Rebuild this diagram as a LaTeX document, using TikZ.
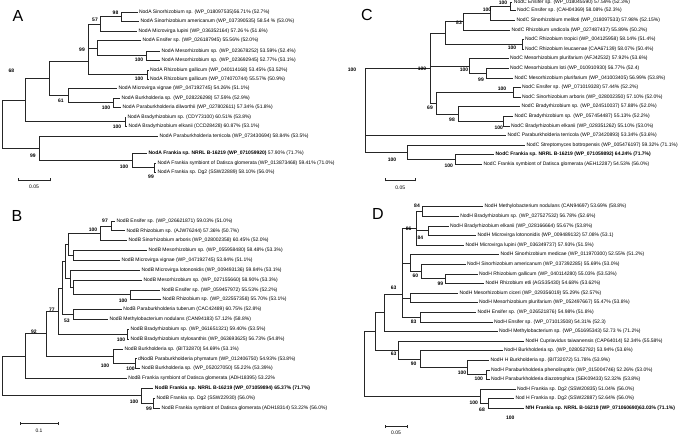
\documentclass[tikz,border=0pt]{standalone}
\usepackage{fontspec}
\setmainfont{Liberation Sans}
\begin{document}
\begin{tikzpicture}[x=1pt,y=-1pt,
 br/.style={draw=black!85, line width=0.7pt},
 lf/.style={anchor=west, inner xsep=1.4pt, inner ysep=0pt, font=\fontsize{5}{5}\selectfont},
 lfb/.style={lf, font=\fontsize{5}{5}\selectfont\bfseries},
 bs/.style={inner sep=0pt, font=\fontsize{5}{5}\selectfont\bfseries},
 pl/.style={inner sep=0pt, font=\fontsize{16}{16}\selectfont},
 sc/.style={inner sep=0pt, font=\fontsize{5}{5}\selectfont}]
\useasboundingbox (0,0) rectangle (685,435);
\fill[white] (0,0) rectangle (685,435);
% ================= PANEL A =================
\node[pl] (pA) at (18,16) {A};
\coordinate (a98) at (121,16.75);
\coordinate (a57) at (100,24);
\coordinate (aMe) at (146,55.75);
\coordinate (a97) at (97,48.1);
\coordinate (aGa) at (147,74.5);
\coordinate (a99) at (88,61.3);
\coordinate (aBu) at (113.3,102.75);
\coordinate (a61) at (68.3,95.6);
\coordinate (a68) at (49.3,78.45);
\coordinate (aBr) at (125,121.75);
\coordinate (aX) at (25,100.1);
\coordinate (aFr2) at (154.3,167.75);
\coordinate (aFr) at (132,160.6);
\coordinate (a99b) at (39.3,148.3);
\coordinate (aR) at (2,124.2);
\node[lf] (aL1) at (137.5,12) {NodA Sinorhizobium sp. (WP\_018097535)56.71\% (52.7\%)};
\node[lf] (aL2) at (139,21.5) {NodA Sinorhizobium americanum (WP\_037390535) 58.54 \% (53.0\%)};
\node[lf] (aL3) at (137,31) {NodA Microvirga lupini (WP\_036352164) 57.26 \% (51.6\%)};
\node[lf] (aL4) at (141,40.5) {NodA Ensifer sp. (WP\_026187945) 55.56\% (52.0\%)};
\node[lf] (aL5) at (160,51) {NodA Mesorhizobium sp. (WP\_023678252) 53.59\% (52.4\%)};
\node[lf] (aL6) at (160,60.5) {NodA Mesorhizobium sp. (WP\_023692945) 52.77\% (53.1\%)};
\node[lf] (aL7) at (148.5,70) {NodA Rhizobium gallicum (WP\_040114168) 53.45\% (53.52\%)};
\node[lf] (aL8) at (148.5,79) {NodA Rhizobium gallicum (WP\_074070744) 55.57\% (50.9\%)};
\node[lf] (aL9) at (117,88.5) {NodA Microvirga vignae (WP\_047192745) 54.26\% (51.1\%)};
\node[lf] (aL10) at (120,98) {NodA Burkholderia sp. (WP\_028226298) 57.59\% (52.9\%)};
\node[lf] (aL11) at (121,107.5) {NodA Paraburkholderia dilworthii (WP\_027802611) 57.34\% (51.8\%)};
\node[lf] (aL12) at (126,117) {NodA Bradyrhizobium sp. (CDY73100) 60.51\% (53.8\%)};
\node[lf] (aL13) at (127,126.5) {NodA Bradyrhizobium elkanii (CCD28428) 60.87\% (53.1\%)};
\node[lf] (aL14) at (158,136) {NodA Paraburkholderia terricola (WP\_073430694) 58.84\% (53.5\%)};
\node[lf] (aL15) at (147,153.5) {\bfseries NodA Frankia sp. NRRL B-16219 (WP\_071059920)\mdseries{} 57.90\% (71.7\%)};
\node[lf] (aL16) at (156,163) {NodA Frankia symbiont of Datisca glomerata (WP\_013873468) 59.41\% (71.0\%)};
\node[lf] (aL17) at (156,172.5) {NodA Frankia sp. Dg2 (SSW22889) 58.10\% (56.0\%)};
\draw[br] (a98) |- (aL1.west); \draw[br] (a98) |- (aL2.west);
\draw[br] (a57) |- (a98); \draw[br] (a57) |- (aL3.west);
\draw[br] (aMe) |- (aL5.west); \draw[br] (aMe) |- (aL6.west);
\draw[br] (a97) |- (aL4.west); \draw[br] (a97) |- (aMe);
\draw[br] (aGa) |- (aL7.west); \draw[br] (aGa) |- (aL8.west);
\draw[br] (a99) |- (a57); \draw[br] (a99) |- (a97); \draw[br] (a99) |- (aGa);
\draw[br] (aBu) |- (aL10.west); \draw[br] (aBu) |- (aL11.west);
\draw[br] (a61) |- (aL9.west); \draw[br] (a61) |- (aBu);
\draw[br] (a68) |- (a99); \draw[br] (a68) |- (a61);
\draw[br] (aBr) |- (aL12.west); \draw[br] (aBr) |- (aL13.west);
\draw[br] (aX) |- (a68); \draw[br] (aX) |- (aBr);
\draw[br] (aFr2) |- (aL16.west); \draw[br] (aFr2) |- (aL17.west);
\draw[br] (aFr) |- (aL15.west); \draw[br] (aFr) |- (aFr2);
\draw[br] (a99b) |- (aL14.west); \draw[br] (a99b) |- (aFr);
\draw[br] (aR) |- (aX); \draw[br] (aR) |- (a99b);
\node[bs] (bA1) at (115.5,12.8) {98};
\node[bs] (bA2) at (95,19.5) {57};
\node[bs] (bA3) at (82,49.5) {99};
\node[bs] (bA4) at (139,60) {100};
\node[bs] (bA5) at (139,79) {100};
\node[bs] (bA6) at (11.5,71) {68};
\node[bs] (bA7) at (61,101) {61};
\node[bs] (bA8) at (106,108) {100};
\node[bs] (bA9) at (117,127) {100};
\node[bs] (bA10) at (33,156) {99};
\node[bs] (bA11) at (124,167) {100};
\node[bs] (bA12) at (151,176.5) {99};
\coordinate (sA1) at (18,180); \coordinate (sA2) at (50,180);
\draw[br] (sA1) -- (sA2); \draw[br] ([yshift=-1.5pt]sA1) -- ([yshift=1.5pt]sA1); \draw[br] ([yshift=-1.5pt]sA2) -- ([yshift=1.5pt]sA2);
\node[sc] (tA) at (34,187) {0.05};
% ================= PANEL B =================
\node[pl] (pB) at (17,216) {B};
\coordinate (b97) at (111,225.9);
\coordinate (b100) at (100,233.3);
\coordinate (bMM) at (73.3,255.5);
\coordinate (b68) at (68.3,244.4);
\coordinate (bER) at (130,294.8);
\coordinate (bY) at (73,287.4);
\coordinate (bX) at (70,278.8);
\coordinate (bZ) at (65,261.6);
\coordinate (bPM) at (73.3,314.5);
\coordinate (bU) at (62,288);
\coordinate (bBr) at (127,334.2);
\coordinate (bN60) at (58,311.1);
\coordinate (bBk2) at (135,363.7);
\coordinate (bBk) at (113.3,356.3);
\coordinate (bN47) at (46.7,333.7);
\coordinate (bN25) at (25,356);
\coordinate (bFr2) at (153.3,403);
\coordinate (bFr) at (141.7,395.7);
\coordinate (bR) at (2,375.8);
\node[lf] (bL1) at (115,221) {NodB Ensifer sp. (WP\_026621871) 59.03\% (51.0\%)};
\node[lf] (bL2) at (125,230.8) {NodB Rhizobium sp. (AJW76244) 57.36\% (50.7\%)};
\node[lf] (bL3) at (127,240.7) {NodB Sinorhizobium arboris (WP\_028002358) 60.45\% (52.0\%)};
\node[lf] (bL4) at (147,250.5) {NodB Mesorhizobium sp. (WP\_055958480) 58.48\% (53.3\%)};
\node[lf] (bL5) at (120,260.4) {NodB Microvirga vignae (WP\_047192745) 53.84\% (51.1\%)};
\node[lf] (bL6) at (140,270.2) {NodB Microvirga lotononidis (WP\_009493136) 59.84\% (53.1\%)};
\node[lf] (bL7) at (142,280) {NodB Mesorhizobium sp. (WP\_027155660) 58.90\% (53.3\%)};
\node[lf] (bL8) at (160,289.9) {NodB Ensifer sp. (WP\_059457972) 55.53\% (52.2\%)};
\node[lf] (bL9) at (161,299.7) {NodB Rhizobium sp. (WP\_022557358) 55.70\% (53.1\%)};
\node[lf] (bL10) at (121.7,309.6) {NodB Paraburkholderia tuberum (CAC42489) 60.75\% (52.8\%)};
\node[lf] (bL11) at (108,319.4) {NodB Methylobacterium nodulans (CAN94183) 57.12\% (58.8\%)};
\node[lf] (bL12) at (129,329.2) {NodB Bradyrhizobium sp. (WP\_061651321) 59.40\% (53.5\%)};
\node[lf] (bL13) at (129,339.1) {NodB Bradyrhizobium stylosanthis (WP\_063693625) 56.73\% (54.8\%)};
\node[lf] (bL14) at (123,348.9) {NodB Burkholderia sp. (BIT32870) 54.69\% (53.1\%)};
\node[lf] (bL15) at (136.5,358.8) {dNodB Paraburkholderia phymatum (WP\_012406750) 54.93\% (53.8\%)};
\node[lf] (bL16) at (140,368.6) {NodB Burkholderia sp. (WP\_052027050) 55.22\% (53.39\%)};
\node[lf] (bL17) at (126.7,378.4) {NodB Frankia symbiont of Datisca glomerata (ADH18395) 53.22\%};
\node[lfb] (bL18) at (153.3,388.3) {NodB Frankia sp. NRRL B-16219 (WP\_071059894) 65.37\% (71.7\%)};
\node[lf] (bL19) at (155,398.1) {NodB Frankia sp. Dg2 (SSW22930) (56.0\%)};
\node[lf] (bL20) at (160,408) {NodB Frankia symbiont of Datisca glomerata (ADH18314) 53.22\% (56.0\%)};
\draw[br] (b97) |- (bL1.west); \draw[br] (b97) |- (bL2.west);
\draw[br] (b100) |- (b97); \draw[br] (b100) |- (bL3.west);
\draw[br] (bMM) |- (bL4.west); \draw[br] (bMM) |- (bL5.west);
\draw[br] (b68) |- (b100); \draw[br] (b68) |- (bMM);
\draw[br] (bER) |- (bL8.west); \draw[br] (bER) |- (bL9.west);
\draw[br] (bY) |- (bL7.west); \draw[br] (bY) |- (bER);
\draw[br] (bX) |- (bL6.west); \draw[br] (bX) |- (bY);
\draw[br] (bZ) |- (b68); \draw[br] (bZ) |- (bX);
\draw[br] (bPM) |- (bL10.west); \draw[br] (bPM) |- (bL11.west);
\draw[br] (bU) |- (bZ); \draw[br] (bU) |- (bPM);
\draw[br] (bBr) |- (bL12.west); \draw[br] (bBr) |- (bL13.west);
\draw[br] (bN60) |- (bU); \draw[br] (bN60) |- (bBr);
\draw[br] (bBk2) |- (bL15.west); \draw[br] (bBk2) |- (bL16.west);
\draw[br] (bBk) |- (bL14.west); \draw[br] (bBk) |- (bBk2);
\draw[br] (bN47) |- (bN60); \draw[br] (bN47) |- (bBk);
\draw[br] (bN25) |- (bN47); \draw[br] (bN25) |- (bL17.west);
\draw[br] (bFr2) |- (bL19.west); \draw[br] (bFr2) |- (bL20.west);
\draw[br] (bFr) |- (bL18.west); \draw[br] (bFr) |- (bFr2);
\draw[br] (bR) |- (bN25); \draw[br] (bR) |- (bFr);
\node[bs] (bB1) at (105,221) {97};
\node[bs] (bB2) at (93,230) {100};
\node[bs] (bB3) at (123,300.5) {100};
\node[bs] (bB4) at (67,320.5) {53};
\node[bs] (bB5) at (52,310) {77};
\node[bs] (bB6) at (34,332) {92};
\node[bs] (bB7) at (121,340) {100};
\node[bs] (bB8) at (105,366) {100};
\node[bs] (bB9) at (130.5,368.5) {100};
\node[bs] (bB10) at (134,401.5) {100};
\node[bs] (bB11) at (149,408.3) {99};
\coordinate (sB1) at (20,423.5); \coordinate (sB2) at (58,423.5);
\draw[br] (sB1) -- (sB2); \draw[br] ([yshift=-1.5pt]sB1) -- ([yshift=1.5pt]sB1); \draw[br] ([yshift=-1.5pt]sB2) -- ([yshift=1.5pt]sB2);
\node[sc] (tB) at (39,431) {0.1};
% ================= PANEL C =================
\node[pl] (pC) at (367,15) {C};
\coordinate (cE) at (510.3,6.6);
\coordinate (c100a) at (490.3,13.45);
\coordinate (c83) at (463.7,21.7);
\coordinate (cRt) at (522,44.3);
\coordinate (cRh) at (445.3,33);
\coordinate (cM99) at (486,73.1);
\coordinate (cM100) at (469.7,65.9);
\coordinate (cES) at (513.7,92.3);
\coordinate (cB100) at (503.7,121.1);
\coordinate (cB98) at (458.7,113.9);
\coordinate (c69) at (436.3,103.1);
\coordinate (cA) at (430,68);
\coordinate (cTop) at (365,110.15);
\coordinate (cFr) at (455.3,159.5);
\coordinate (cSF) at (407,152.3);
\node[lf] (cL1) at (512.3,2.5) {NodC Ensifer sp. (WP\_018045590) 57.59\% (52.3\%)};
\node[lf] (cL2) at (515.5,10.7) {NodC Ensifer sp. (CAH04369) 58.08\% (52.3\%)};
\node[lf] (cL3) at (515,20.3) {NodC Sinorhizobium meliloti (WP\_018097533) 57.98\% (52.15\%)};
\node[lf] (cL4) at (510,29.9) {NodC Rhizobium undicola (WP\_027487437) 55.89\% (50.2\%)};
\node[lf] (cL5) at (523.5,39.5) {NodC Rhizobium tropici (WP\_004125958) 58.14\% (51.4\%)};
\node[lf] (cL6) at (523.5,49.1) {NodC Rhizobium leucaenae (CAA67139) 58.07\% (50.4\%)};
\node[lf] (cL7) at (508.5,58.7) {NodC Mesorhizobium plurifarium (AFJ42532) 57.92\% (53.6\%)};
\node[lf] (cL8) at (508.5,68.3) {NodC Mesorhizobium loti (WP\_010910930) 56.77\% (52.4)};
\node[lf] (cL9) at (513,77.9) {NodC Mesorhizobium plurifarium (WP\_041003405) 56.99\% (53.8\%)};
\node[lf] (cL10) at (520.5,87.5) {NodC Ensifer sp. (WP\_071019328) 57.44\% (52.2\%)};
\node[lf] (cL11) at (520.5,97.1) {NodC Sinorhizobium arboris (WP\_028002350) 57.10\% (52.0\%)};
\node[lf] (cL12) at (520,106.7) {NodC Bradyrhizobium sp. (WP\_024510037) 57.88\% (52.0\%)};
\node[lf] (cL13) at (513,116.3) {NodC Bradyrhizobium sp. (WP\_057454487) 55.13\% (52.2\%)};
\node[lf] (cL14) at (509.5,125.9) {NodC Bradyrhizobium elkanii (WP\_028351262) 55.10\% (53.0\%)};
\node[lf] (cL15) at (506,135.5) {NodC Paraburkholderia terricola (WP\_073420893) 53.34\% (53.6\%)};
\node[lf] (cL16) at (525,145.1) {NodC Streptomyces bottropensis (WP\_005476197) 59.32\% (71.1\%)};
\node[lfb] (cL17) at (494,154.7) {NodC Frankia sp. NRRL B-16219 (WP\_071059892) 64.24\% (71.7\%)};
\node[lf] (cL18) at (482,164.3) {NodC Frankia symbiont of Datisca glomerata (AEH12287) 54.53\% (56.0\%)};
\draw[br] (cE) |- (cL1.west); \draw[br] (cE) |- (cL2.west);
\draw[br] (c100a) |- (cE); \draw[br] (c100a) |- (cL3.west);
\draw[br] (c83) |- (c100a); \draw[br] (c83) |- (cL4.west);
\draw[br] (cRt) |- (cL5.west); \draw[br] (cRt) |- (cL6.west);
\draw[br] (cRh) |- (c83); \draw[br] (cRh) |- (cRt);
\draw[br] (cM99) |- (cL8.west); \draw[br] (cM99) |- (cL9.west);
\draw[br] (cM100) |- (cL7.west); \draw[br] (cM100) |- (cM99);
\draw[br] (cES) |- (cL10.west); \draw[br] (cES) |- (cL11.west);
\draw[br] (cB100) |- (cL13.west); \draw[br] (cB100) |- (cL14.west);
\draw[br] (cB98) |- (cL12.west); \draw[br] (cB98) |- (cB100);
\draw[br] (c69) |- (cES); \draw[br] (c69) |- (cB98);
\draw[br] (cA) |- (cRh); \draw[br] (cA) |- (cM100); \draw[br] (cA) |- (c69);
\draw[br] (cFr) |- (cL17.west); \draw[br] (cFr) |- (cL18.west);
\draw[br] (cSF) |- (cL16.west); \draw[br] (cSF) |- (cFr);
\draw[br] (cTop) |- (cA); \draw[br] (cTop) |- (cL15.west); \draw[br] (cTop) |- (cSF);
\node[bs] (bC1) at (503,2.5) {100};
\node[bs] (bC2) at (487,10) {100};
\node[bs] (bC3) at (459,22.7) {83};
\node[bs] (bC4) at (512,47.5) {100};
\node[bs] (bC5) at (422,68.3) {100};
\node[bs] (bC6) at (464,69.3) {100};
\node[bs] (bC7) at (352,69.3) {100};
\node[bs] (bC8) at (481,79.5) {99};
\node[bs] (bC9) at (502,88.5) {100};
\node[bs] (bC10) at (430,108) {69};
\node[bs] (bC11) at (452,120) {98};
\node[bs] (bC12) at (498.7,127.3) {100};
\node[bs] (bC13) at (392,159.3) {100};
\node[bs] (bC14) at (448.7,166) {100};
\coordinate (sC1) at (385.3,180); \coordinate (sC2) at (415.3,180);
\draw[br] (sC1) -- (sC2); \draw[br] ([yshift=-1.5pt]sC1) -- ([yshift=1.5pt]sC1); \draw[br] ([yshift=-1.5pt]sC2) -- ([yshift=1.5pt]sC2);
\node[sc] (tC) at (400.3,188) {0.05};
% ================= PANEL D =================
\node[pl] (pD) at (378,214) {D};
\coordinate (d84a) at (422,211.5);
\coordinate (d84b) at (428,230.7);
\coordinate (d86) at (416.5,228.3);
\coordinate (d99) at (445.3,278.7);
\coordinate (d60) at (421.3,271.5);
\coordinate (dSi) at (410.3,263.1);
\coordinate (dMe) at (410.3,297.9);
\coordinate (d83) at (420.3,317.1);
\coordinate (dQ) at (402.5,294);
\coordinate (dR) at (384.7,312.7);
\coordinate (d100c) at (486.5,374.7);
\coordinate (d100b) at (467,367.5);
\coordinate (d90) at (420.3,359.1);
\coordinate (d63b) at (398.7,350.1);
\coordinate (dS) at (375,331.4);
\coordinate (d68) at (488.7,403.5);
\coordinate (d100f) at (480.3,396.3);
\coordinate (dR0) at (364.7,363.9);
\node[lf] (dL1) at (483,206.7) {NodH Methylobacterium nodulans (CAN94697) 53.69\% (58.8\%)};
\node[lf] (dL2) at (458.7,216.3) {NodH Bradyrhizobium sp. (WP\_027527532) 56.78\% (52.6\%)};
\node[lf] (dL3) at (448.5,225.9) {NodH Bradyrhizobium elkanii (WP\_028166664) 55.67\% (53.8\%)};
\node[lf] (dL4) at (476,235.5) {NodH Microvirga lotononidis (WP\_009489132) 57.08\% (53.1)};
\node[lf] (dL5) at (464,245.1) {NodH Microvirga lupini (WP\_036349737) 57.93\% (51.5\%)};
\node[lf] (dL6) at (499,254.7) {NodH Sinorhizobium medicae (WP\_011970300) 52.55\% (51.2\%)};
\node[lf] (dL7) at (465.5,264.3) {NodH Sinorhizobium americanum (WP\_037392285) 55.69\% (53.0\%)};
\node[lf] (dL8) at (477.5,273.9) {NodH Rhizobium gallicum (WP\_040114280) 55.03\% (53.53\%)};
\node[lf] (dL9) at (484,283.5) {NodH Rhizobium etli (AGS35430) 54.68\% (53.62\%)};
\node[lf] (dL10) at (458,293.1) {NodH Mesorhizobium ciceri (WP\_029356019) 55.29\% (52.57\%)};
\node[lf] (dL11) at (477.5,302.7) {NodH Mesorhizobium plurifarium (WP\_052497667) 55.47\% (53.8\%)};
\node[lf] (dL12) at (476,312.3) {NodH Ensifer sp. (WP\_026521876) 54.98\% (51.8\%)};
\node[lf] (dL13) at (492.5,321.9) {NodH Ensifer sp. (WP\_071013508) 54.31\% (52.3)};
\node[lf] (dL14) at (497.5,331.5) {NodH Methylobacterium sp. (WP\_051695343) 52.73 \% (71.2\%)};
\node[lf] (dL15) at (524,341.1) {NodH Cupriavidus taiwanensis (CAP64014) 52.34\% (55.58\%)};
\node[lf] (dL16) at (502.5,350.7) {NodH Burkholderia sp. (WP\_028052782) 53.94\% (53.6\%)};
\node[lf] (dL17) at (489,360.3) {NodH H Burkholderia sp. (BIT32072) 51.78\% (53.9\%)};
\node[lf] (dL18) at (489.5,369.9) {NodH Paraburkholderia phenoliruptrix (WP\_015004746) 52.26\% (53.0\%)};
\node[lf] (dL19) at (489.5,379.5) {NodH Paraburkholderia diazotrophica (SEK09433) 52.32\% (53.8\%)};
\node[lf] (dL20) at (515.5,389.1) {NodH Frankia sp. Dg2 (SSW20835) 51.04\% (56.0\%)};
\node[lf] (dL21) at (514,398.7) {Nod H Frankia sp. Dg2 (SSW22887) 52.64\% (56.0\%)};
\node[lfb] (dL22) at (524,408.3) {NfH Frankia sp. NRRL B-16219 (WP\_071060690)63.03\% (71.1\%)};
\draw[br] (d84a) |- (dL1.west); \draw[br] (d84a) |- (dL2.west);
\draw[br] (d84b) |- (dL3.west); \draw[br] (d84b) |- (dL4.west);
\draw[br] (d86) |- (d84a); \draw[br] (d86) |- (d84b); \draw[br] (d86) |- (dL5.west);
\draw[br] (d99) |- (dL8.west); \draw[br] (d99) |- (dL9.west);
\draw[br] (d60) |- (dL7.west); \draw[br] (d60) |- (d99);
\draw[br] (dSi) |- (dL6.west); \draw[br] (dSi) |- (d60);
\draw[br] (dMe) |- (dL10.west); \draw[br] (dMe) |- (dL11.west);
\draw[br] (d83) |- (dL12.west); \draw[br] (d83) |- (dL13.west);
\draw[br] (dQ) |- (d86); \draw[br] (dQ) |- (dSi); \draw[br] (dQ) |- (dMe); \draw[br] (dQ) |- (d83);
\draw[br] (dR) |- (dQ); \draw[br] (dR) |- (dL14.west);
\draw[br] (d100c) |- (dL18.west); \draw[br] (d100c) |- (dL19.west);
\draw[br] (d100b) |- (dL17.west); \draw[br] (d100b) |- (d100c);
\draw[br] (d90) |- (dL16.west); \draw[br] (d90) |- (d100b);
\draw[br] (d63b) |- (dL15.west); \draw[br] (d63b) |- (d90);
\draw[br] (dS) |- (dR); \draw[br] (dS) |- (d63b);
\draw[br] (d68) |- (dL21.west); \draw[br] (d68) |- (dL22.west);
\draw[br] (d100f) |- (dL20.west); \draw[br] (d100f) |- (d68);
\draw[br] (dR0) |- (dS); \draw[br] (dR0) |- (d100f);
\node[bs] (bD1) at (417,206) {84};
\node[bs] (bD2) at (408.7,229) {86};
\node[bs] (bD3) at (420.3,237.3) {84};
\node[bs] (bD4) at (415.3,275.7) {60};
\node[bs] (bD5) at (440.3,284) {99};
\node[bs] (bD6) at (393.7,288) {63};
\node[bs] (bD7) at (413.7,321.3) {83};
\node[bs] (bD8) at (393.7,354) {63};
\node[bs] (bD9) at (413.7,364) {90};
\node[bs] (bD10) at (462,372.3) {100};
\node[bs] (bD11) at (478.7,379) {100};
\node[bs] (bD12) at (473.7,402.3) {100};
\node[bs] (bD13) at (482,410) {68};
\node[bs] (bD14) at (510.3,417.3) {100};
\coordinate (sD1) at (385.3,426.5); \coordinate (sD2) at (407,426.5);
\draw[br] (sD1) -- (sD2); \draw[br] ([yshift=-1.5pt]sD1) -- ([yshift=1.5pt]sD1); \draw[br] ([yshift=-1.5pt]sD2) -- ([yshift=1.5pt]sD2);
\node[sc] (tD) at (396,432.5) {0.05};
\end{tikzpicture}
\end{document}
